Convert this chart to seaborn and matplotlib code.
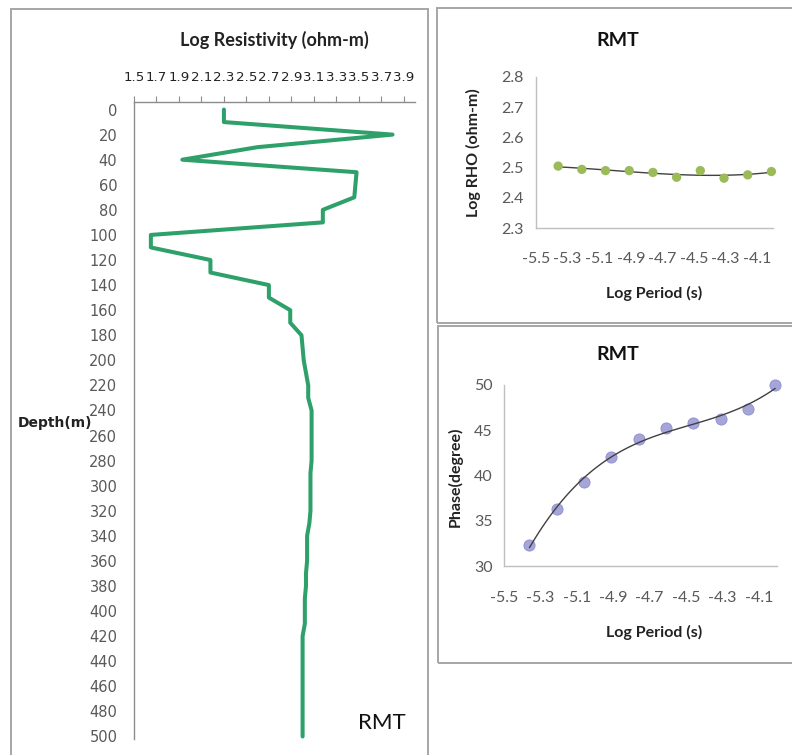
import numpy as np
import pandas as pd
import matplotlib
matplotlib.use("Agg")
import matplotlib.pyplot as plt
from matplotlib.patches import Rectangle
import seaborn as sns

# --- Data ---
# Resistivity profile (left panel)
depth = [0, 10, 20, 30, 40, 50, 60, 70, 80, 90, 100, 110, 120, 130, 140, 150,
         160, 170, 180, 190, 200, 210, 220, 230, 240, 250, 260, 270, 280, 290,
         300, 310, 320, 330, 340, 350, 360, 370, 380, 390, 400, 410, 420, 430,
         440, 450, 460, 470, 480, 490, 500]
log_res = [2.30, 2.30, 3.80, 2.60, 1.93, 3.48, 3.47, 3.46, 3.18, 3.18, 1.65,
           1.65, 2.18, 2.18, 2.70, 2.70, 2.89, 2.89, 2.99, 3.00, 3.01, 3.03,
           3.05, 3.05, 3.08, 3.08, 3.08, 3.08, 3.08, 3.07, 3.07, 3.07, 3.07,
           3.06, 3.04, 3.04, 3.04, 3.03, 3.03, 3.02, 3.02, 3.02, 3.00, 3.00,
           3.00, 3.00, 3.00, 3.00, 3.00, 3.00, 3.00]

# Sounding curves (right panels)
log_period = [-5.36, -5.21, -5.06, -4.91, -4.76, -4.61, -4.46, -4.31, -4.16, -4.01]
log_rho = [2.505, 2.494, 2.490, 2.490, 2.484, 2.468, 2.490, 2.465, 2.476, 2.487]
phase = [32.3, 36.3, 39.3, 42.0, 44.0, 45.2, 45.8, 46.2, 47.4, 50.0]

# Tick labels
res_ticks = [1.5, 1.7, 1.9, 2.1, 2.3, 2.5, 2.7, 2.9, 3.1, 3.3, 3.5, 3.7, 3.9]
depth_ticks = [0, 20, 40, 60, 80, 100, 120, 140, 160, 180, 200, 220, 240, 260,
               280, 300, 320, 340, 360, 380, 400, 420, 440, 460, 480, 500]
period_ticks = [-5.5, -5.3, -5.1, -4.9, -4.7, -4.5, -4.3, -4.1]
rho_ticks = [2.3, 2.4, 2.5, 2.6, 2.7, 2.8]
phase_ticks = [30, 35, 40, 45, 50]

profile = pd.DataFrame({"depth": depth, "log_res": log_res})
sounding = pd.DataFrame({"log_period": log_period, "log_rho": log_rho, "phase": phase})

# --- Figure setup ---
sns.set_style("white")
plt.rcParams['font.family'] = ['Lato', 'DejaVu Sans']

W, H = 792, 755
fig = plt.figure(figsize=(W / 100, H / 100), dpi=100)


def px_axes(x0, y0, x1, y1):
    # axes placed by pixel box (top-left origin)
    return fig.add_axes([x0 / W, 1 - y1 / H, (x1 - x0) / W, (y1 - y0) / H])


def px_box(x0, y0, x1, y1):
    fig.add_artist(Rectangle((x0 / W, 1 - y1 / H), (x1 - x0) / W, (y1 - y0) / H,
                             transform=fig.transFigure, fill=False,
                             ec="#a6a6a6", lw=1.4))


def px_text(x, y, s, **kw):
    fig.text(x / W, 1 - y / H, s, ha="center", va="center", **kw)


# panel frames
px_box(11, 9, 428, 760)
px_box(437, 8, 798, 323)
px_box(438, 326, 798, 663)

# --- Left: resistivity vs depth ---
ax1 = px_axes(134, 102, 415, 739)
sns.lineplot(data=profile, x="log_res", y="depth", sort=False, estimator=None,
             color="#2EA06A", lw=2.9, ax=ax1)
ax1.set_xlim(1.5, 4.0)
ax1.set_ylim(502, -6)
ax1.xaxis.tick_top()
ax1.set_xticks(res_ticks)
ax1.set_xticklabels([f"{t:.1f}" for t in res_ticks], family="DejaVu Sans")
ax1.set_yticks(depth_ticks)
ax1.set_yticklabels([str(d) for d in depth_ticks], family="DejaVu Sans")
ax1.set_xlabel("")
ax1.set_ylabel("")
for side in ["right", "bottom"]:
    ax1.spines[side].set_visible(False)
for side in ["left", "top"]:
    ax1.spines[side].set_color("#8c8c8c")
    ax1.spines[side].set_linewidth(1)
ax1.tick_params(axis="x", direction="out", length=4, color="#8c8c8c",
                labelsize=9.6, labelcolor="#222222", pad=9)
ax1.tick_params(axis="y", length=0, labelsize=10.5, labelcolor="#595959", pad=12)

px_text(274, 40, "Log Resistivity (ohm-m)", fontsize=13, fontweight="bold",
        color="#222222")
px_text(55, 423, "Depth(m)", fontsize=10, fontweight="bold", color="#222222",
        family="DejaVu Sans")
px_text(382, 723, "RMT", fontsize=16, color="#111111")

# --- Top right: apparent resistivity ---
ax2 = px_axes(536, 77, 773, 228)
sns.regplot(data=sounding, x="log_period", y="log_rho", order=3, ci=None, ax=ax2,
            scatter_kws=dict(s=45, color="#9bbb59", alpha=1, edgecolor="none",
                             zorder=3, clip_on=False),
            line_kws=dict(color="#404040", lw=1, zorder=2))
ax2.set_xlim(-5.5, -4.0)
ax2.set_ylim(2.3, 2.8)
ax2.set_xticks(period_ticks)
ax2.set_xticklabels([f"{t:.1f}" for t in period_ticks])
ax2.set_yticks(rho_ticks)
ax2.set_yticklabels([f"{t:.1f}" for t in rho_ticks])
ax2.set_xlabel("")
ax2.set_ylabel("")

# --- Bottom right: phase ---
ax3 = px_axes(504, 385, 777, 566)
sns.regplot(data=sounding, x="log_period", y="phase", order=3, ci=None, ax=ax3,
            scatter_kws=dict(s=65, color="#9d9bd6", alpha=0.9,
                             edgecolor="#8a88c6", linewidths=0.6, zorder=2,
                             clip_on=False),
            line_kws=dict(color="#404040", lw=1, zorder=3))
ax3.set_xlim(-5.5, -4.0)
ax3.set_ylim(30, 50)
ax3.set_xticks(period_ticks)
ax3.set_xticklabels([f"{t:.1f}" for t in period_ticks])
ax3.set_yticks(phase_ticks)
ax3.set_xlabel("")
ax3.set_ylabel("")

for ax, xpad, ypad in [(ax2, 17, 9), (ax3, 18, 8)]:
    for side in ["right", "top"]:
        ax.spines[side].set_visible(False)
    for side in ["left", "bottom"]:
        ax.spines[side].set_color("#bfbfbf")
        ax.spines[side].set_linewidth(1)
    ax.tick_params(axis="x", length=0, labelsize=11.5, labelcolor="#595959", pad=xpad)
    ax.tick_params(axis="y", length=0, labelsize=11.5, labelcolor="#595959", pad=ypad)

px_text(618, 40, "RMT", fontsize=14, fontweight="bold", color="#111111")
px_text(473, 153, "Log RHO (ohm-m)", fontsize=11.5, fontweight="bold",
        color="#222222", rotation=90)
px_text(654, 293, "Log Period (s)", fontsize=11.5, fontweight="bold", color="#222222")

px_text(618, 355, "RMT", fontsize=14, fontweight="bold", color="#111111")
px_text(455, 477, "Phase(degree)", fontsize=11.5, fontweight="bold",
        color="#222222", rotation=90)
px_text(654, 632, "Log Period (s)", fontsize=11.5, fontweight="bold", color="#222222")

fig.savefig("out.png", dpi=100)
